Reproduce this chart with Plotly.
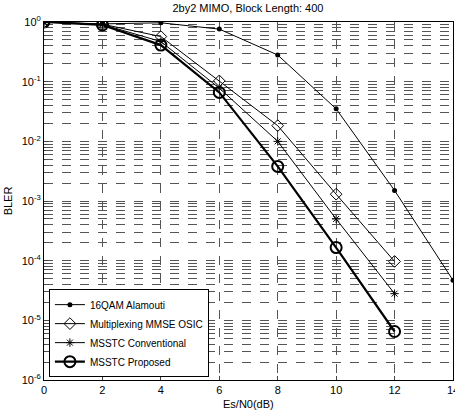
import plotly.graph_objects as go

snr = [0, 2, 4, 6, 8, 10, 12, 14]
alamouti = [1.0, 0.93, 0.97, 0.76, 0.28, 0.035, 1.5e-3, 4.7e-5]
snr_b = [0, 2, 4, 6, 8, 10, 12]
mmse_osic = [1.0, 0.92, 0.57, 0.103, 0.0183, 1.3e-3, 9.7e-5]
msstc_conv = [1.0, 0.91, 0.47, 0.078, 0.010, 5.0e-4, 2.8e-5]
msstc_prop = [1.0, 0.89, 0.41, 0.066, 0.0038, 1.66e-4, 6.5e-6]

ytick_vals = [1, 1e-1, 1e-2, 1e-3, 1e-4, 1e-5, 1e-6]
ytick_text = ["10<sup>0</sup>", "10<sup>-1</sup>", "10<sup>-2</sup>", "10<sup>-3</sup>",
              "10<sup>-4</sup>", "10<sup>-5</sup>", "10<sup>-6</sup>"]
minor_vals = [m * 10 ** e for e in range(-6, 0) for m in range(2, 10)]
xtick_vals = [0, 2, 4, 6, 8, 10, 12, 14]

fig = go.Figure()
fig.add_trace(go.Scatter(x=snr, y=alamouti, name="16QAM Alamouti", mode="lines+markers",
                         line=dict(color="black", width=1),
                         marker=dict(symbol="circle", size=5, color="black")))
fig.add_trace(go.Scatter(x=snr_b, y=mmse_osic, name="Multiplexing MMSE OSIC", mode="lines+markers",
                         line=dict(color="black", width=1),
                         marker=dict(symbol="diamond-open", size=9, color="black", line=dict(width=1))))
fig.add_trace(go.Scatter(x=snr_b, y=msstc_conv, name="MSSTC Conventional", mode="lines+markers",
                         line=dict(color="black", width=1),
                         marker=dict(symbol="asterisk-open", size=7, color="black", line=dict(width=1))))
fig.add_trace(go.Scatter(x=snr_b, y=msstc_prop, name="MSSTC Proposed", mode="lines+markers",
                         line=dict(color="black", width=2.2),
                         marker=dict(symbol="circle-open", size=11, color="black", line=dict(width=2))))

grid_col = "#555555"
fig.update_layout(
    width=455, height=413,
    margin=dict(l=44, r=2, t=22, b=33, autoexpand=False),
    paper_bgcolor="white", plot_bgcolor="white",
    font=dict(family="Liberation Sans, Arial, sans-serif", size=11, color="black"),
    title=dict(text="2by2 MIMO, Block Length: 400", x=0.545, xanchor="center", y=0.99, yanchor="top",
               font=dict(size=11)),
    showlegend=True,
    legend=dict(x=0.012, y=0.008, xanchor="left", yanchor="bottom",
                bordercolor="black", borderwidth=1, bgcolor="white",
                font=dict(size=10), tracegroupgap=0, itemwidth=30,
                entrywidth=125, entrywidthmode="pixels"),
    xaxis=dict(range=[0, 14], tickvals=xtick_vals, showline=True, linecolor="black", mirror=True,
               ticks="inside", ticklen=4, showgrid=True, gridcolor=grid_col, griddash="dash",
               gridwidth=1, zeroline=False, ticklabeloverflow="allow", automargin=False),
    yaxis=dict(type="log", range=[-6, 0], tickvals=ytick_vals, ticktext=ytick_text,
               showline=True, linecolor="black", mirror=True, ticks="inside", ticklen=4,
               showgrid=True, gridcolor=grid_col, griddash="dash", gridwidth=1, zeroline=False,
               automargin=False,
               minor=dict(tickvals=minor_vals, showgrid=True, gridcolor=grid_col, griddash="dash",
                          gridwidth=1, ticks="inside", ticklen=2),
               title=dict(text="BLER", standoff=6, font=dict(size=11))),
    annotations=[dict(text="Es/N0(dB)", xref="paper", yref="paper", x=0.5, y=0,
                      xanchor="center", yanchor="top", yshift=-16, showarrow=False,
                      font=dict(size=11))],
)

fig.write_html("out.html", config={"displayModeBar": False},
               post_script="document.body.style.margin='0';")
